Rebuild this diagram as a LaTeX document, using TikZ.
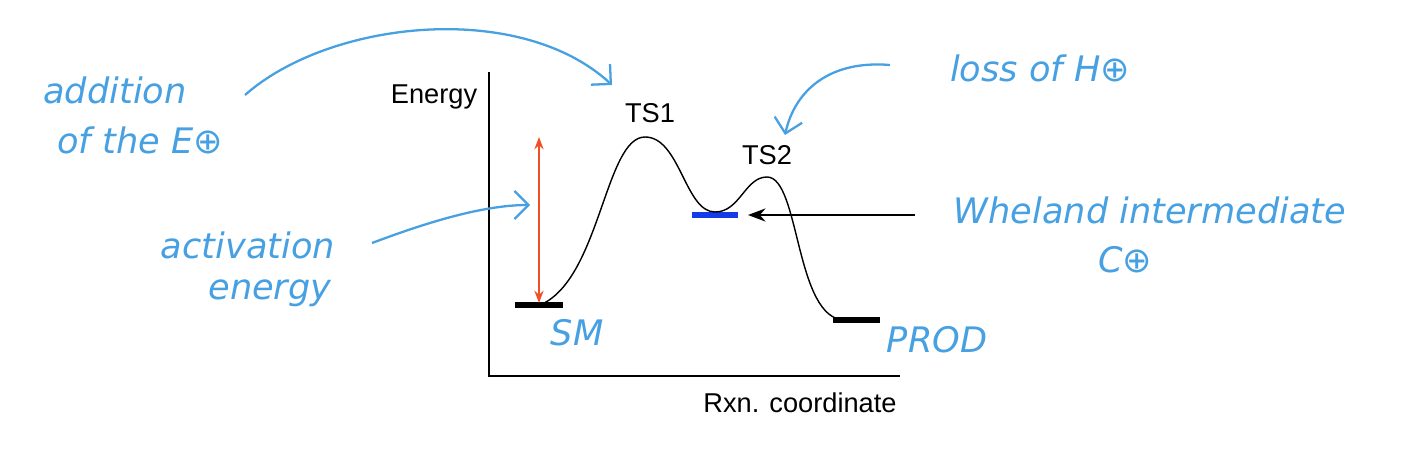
\documentclass[tikz,border=0pt]{standalone}
\usepackage{fontspec}
\setmainfont{Liberation Sans}
\newfontfamily\hand{DejaVu Sans}
\usetikzlibrary{arrows.meta}
\definecolor{pen}{RGB}{70,160,225}
\definecolor{redar}{RGB}{240,80,40}
\definecolor{wh}{RGB}{20,60,230}
\tikzset{
  hw/.style={text=pen,font=\hand\itshape\fontsize{20}{22}\selectfont,inner sep=0pt},
  lab/.style={font=\fontsize{15.5}{17}\selectfont,inner sep=0pt},
  penarrow/.style={draw=pen,line width=1.3pt,-{Straight Barb[length=8pt]}},
  level/.style={line width=3pt}
}
\begin{document}
\begin{tikzpicture}[x=0.02cm,y=-0.02cm]
\useasboundingbox (0,0) rectangle (1410,453);
\draw[line width=0.8pt] (489,72) -- (489,376) -- (900,376);
\node[lab] (en) at (434,97) {Energy};
\node[lab] (rx) at (800,403) {Rxn. coordinate};
\node[lab] (ts1) at (650,113) {TS1};
\node[lab] (ts2) at (767,155) {TS2};
\coordinate (sm1) at (515,305); \coordinate (sm2) at (563,305);
\coordinate (wh1) at (692,215); \coordinate (wh2) at (738,215);
\coordinate (pr1) at (833,320); \coordinate (pr2) at (880,320);
\draw[level] (sm1) -- (sm2);
\draw[level,wh] (wh1) -- (wh2);
\draw[level] (pr1) -- (pr2);
\draw[line width=0.8pt] (540,305) .. controls (600,280) and (605,137) .. (645,137)
  .. controls (680,137) and (685,212) .. (715,212)
  .. controls (740,212) and (745,177) .. (767,177)
  .. controls (800,177) and (795,320) .. (845,320);
\coordinate (ra) at (539,303); \coordinate (rb) at (539,137);
\draw[redar,line width=1pt,{Stealth[length=7pt]}-{Stealth[length=7pt]}] (ra) -- (rb);
\node[hw] (add) at (115,90) {addition};
\node[hw] (ofe) at (140,140) {of the E⊕};
\node[hw] (act) at (248,245) {activation};
\node[hw] (ene) at (270,293) {energy};
\node[hw] (loss) at (1040,68) {loss of H⊕};
\node[hw] (whe) at (1150,210) {Wheland intermediate};
\node[hw] (cp) at (1125,260) {C⊕};
\node[hw] (sm) at (577,333) {SM};
\node[hw] (pr) at (937,340) {PROD};
\coordinate (a1) at (245,95); \coordinate (a2) at (612,85);
\draw[penarrow] (a1) .. controls (330,20) and (520,0) .. (a2);
\coordinate (b1) at (890,65); \coordinate (b2) at (785,135);
\draw[penarrow] (b1) .. controls (830,60) and (795,90) .. (b2);
\coordinate (c1) at (372,243); \coordinate (c2) at (530,205);
\draw[penarrow] (c1) .. controls (420,225) and (480,205) .. (c2);
\coordinate (d1) at (915,215); \coordinate (d2) at (748,215);
\draw[line width=0.8pt,-{Stealth[length=10pt]}] (d1) -- (d2);
\end{tikzpicture}
\end{document}
